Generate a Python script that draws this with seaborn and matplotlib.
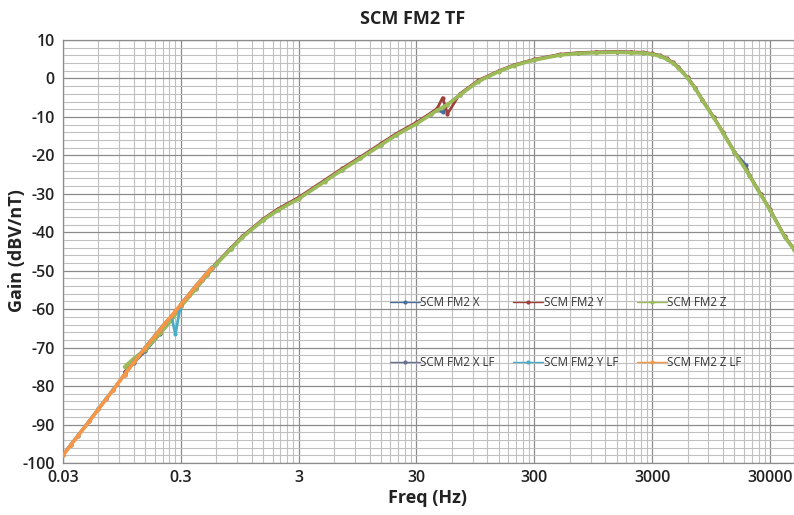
import matplotlib
matplotlib.use("Agg")
import matplotlib.pyplot as plt
import matplotlib.ticker as mticker
import seaborn as sns
import numpy as np

# ---------------- data ----------------
freq_hf = [0.1, 0.12, 0.15, 0.2, 0.25, 0.3, 0.4, 0.5, 0.6, 0.8, 1, 1.5, 2, 3, 5, 7,
           10, 15, 20, 30, 40, 45, 50, 55, 70, 100, 150, 200, 300, 500, 700, 1000,
           1500, 2000, 2500, 3000, 3500, 4000, 4500, 5000, 6000, 7000, 8000, 10000,
           12000, 15000, 18700, 20000, 25000, 30000, 40000, 48000]
gain_x = [-76.5, -73.9, -70.9, -66.4, -62.9, -59.3, -54.8, -51.2, -48.3, -44.3, -41.3,
          -36.8, -34.2, -31.2, -26.7, -23.7, -20.7, -17.2, -14.7, -11.7, -9.2, -8.2,
          -8.8, -6.8, -4.2, -0.7, 1.9, 3.4, 4.9, 6.2, 6.6, 6.8, 6.9, 6.8, 6.7, 6.4,
          5.9, 5.1, 4.1, 2.9, 0.2, -2.6, -5.6, -10.1, -14.1, -19.1, -22.5, -25.1,
          -30.1, -34.1, -41.1, -44.4]
gain_y = [-76.3, -73.6, -70.6, -66.1, -62.6, -59.0, -54.5, -50.9, -48.0, -44.0, -41.0,
          -36.5, -33.9, -30.9, -26.4, -23.4, -20.4, -16.9, -14.4, -11.4, -8.9, -7.8,
          -5.0, -9.2, -4.0, -0.5, 2.0, 3.5, 5.0, 6.3, 6.7, 6.9, 7.0, 6.9, 6.8, 6.5,
          6.0, 5.2, 4.2, 3.0, 0.3, -2.5, -5.5, -10.0, -14.0, -19.0, -23.5, -25.0,
          -30.0, -34.0, -41.0, -44.3]
gain_z = [-75.0, -72.8, -70.5, -66.3, -62.8, -59.3, -54.8, -51.2, -48.3, -44.3, -41.3,
          -36.8, -34.3, -31.3, -26.8, -23.8, -20.8, -17.3, -14.8, -11.8, -9.3, -8.3,
          -7.5, -6.8, -4.3, -0.8, 1.8, 3.3, 4.8, 6.1, 6.5, 6.7, 6.8, 6.7, 6.6, 6.3,
          5.8, 5.0, 4.0, 2.8, 0.1, -2.7, -5.7, -10.2, -14.2, -19.2, -23.7, -25.2,
          -30.2, -34.2, -41.2, -44.5]

freq_lf = [0.03, 0.035, 0.04, 0.05, 0.06, 0.07, 0.08, 0.1, 0.12, 0.15, 0.18, 0.2,
           0.22, 0.25, 0.27, 0.3, 0.35, 0.4, 0.45, 0.5, 0.55]
gain_x_lf = [-98.0, -95.3, -93.0, -89.2, -86.0, -83.3, -81.0, -77.0, -73.8, -70.0,
             -67.0, -65.3, -63.7, -61.8, -60.5, -58.8, -56.3, -54.1, -52.3, -50.6, -49.2]
gain_y_lf = [-97.8, -95.1, -92.8, -89.0, -85.8, -83.1, -80.8, -76.8, -73.6, -69.8,
             -66.8, -65.1, -63.5, -62.0, -66.5, -58.6, -56.1, -53.9, -52.1, -50.4, -49.0]
gain_z_lf = [-98.0, -95.3, -93.0, -89.2, -86.0, -83.3, -81.0, -77.0, -73.8, -70.0,
             -67.0, -65.3, -63.7, -61.8, -60.5, -58.8, -56.3, -54.1, -52.3, -50.6, -49.2]

series_names = ["SCM FM2 X", "SCM FM2 Y", "SCM FM2 Z",
                "SCM FM2 X LF", "SCM FM2 Y LF", "SCM FM2 Z LF"]
series_colors = ["#4a6f9a", "#a0403c", "#9bbb59", "#6b6f8e", "#4bacc6", "#f79646"]

x_ticks = [0.03, 0.3, 3, 30, 300, 3000, 30000]
x_tick_labels = ["0.03", "0.3", "3", "30", "300", "3000", "30000"]
y_ticks = [10, 0, -10, -20, -30, -40, -50, -60, -70, -80, -90, -100]
y_tick_labels = ["10", "0", "-10", "-20", "-30", "-40", "-50", "-60", "-70", "-80",
                 "-90", "-100"]

# ---------------- style ----------------
sns.set_theme(style="white")
plt.rcParams["font.family"] = ["Open Sans", "DejaVu Sans"]

W, H = 794, 515
fig = plt.figure(figsize=(W / 100, H / 100), dpi=100)
ax = fig.add_axes([63 / W, 1 - 463 / H, 1 - 63 / W, (463 - 40) / H])

series = [
    (freq_hf, gain_x), (freq_hf, gain_y), (freq_hf, gain_z),
    (freq_lf, gain_x_lf), (freq_lf, gain_y_lf), (freq_lf, gain_z_lf),
]
for i in range(6):
    fx, gy = series[i]
    lw = 2.6 if i in (2, 5) else 2.0
    sns.lineplot(x=fx, y=gy, ax=ax, color=series_colors[i], lw=lw,
                 marker="o", markersize=3, markeredgewidth=0,
                 sort=False, label=series_names[i], zorder=3 + i)

ax.set_xscale("log")
ax.set_xlim(0.03, 48000)
ax.set_ylim(-100, 10)

ax.xaxis.set_major_locator(mticker.FixedLocator(x_ticks))
ax.xaxis.set_major_formatter(mticker.FixedFormatter(x_tick_labels))
minor_x = [0.03 * k * 10 ** n for n in range(0, 7) for k in range(2, 10)]
ax.xaxis.set_minor_locator(mticker.FixedLocator(minor_x))
ax.xaxis.set_minor_formatter(mticker.NullFormatter())
ax.yaxis.set_major_locator(mticker.FixedLocator(y_ticks))
ax.yaxis.set_major_formatter(mticker.FixedFormatter(y_tick_labels))
ax.yaxis.set_minor_locator(mticker.MultipleLocator(2))

ax.grid(which="major", color="#8c8c8c", lw=0.9)
ax.grid(which="minor", color="#c0c0c0", lw=0.8)
ax.set_axisbelow(True)
ax.tick_params(which="both", length=0)
ax.tick_params(axis="x", pad=5, labelsize=11.5)
ax.tick_params(axis="y", pad=6, labelsize=11.5)
for lab in ax.get_xticklabels() + ax.get_yticklabels():
    lab.set_fontweight("semibold")
    lab.set_color("#222222")
for s in ax.spines.values():
    s.set_color("#8c8c8c")
    s.set_linewidth(0.9)

ax.set_xlabel("Freq (Hz)", fontsize=13, fontweight="bold", color="#222222")
ax.xaxis.set_label_coords((428 - 63) / 731, (463 - 489) / 423)
ax.set_ylabel("Gain (dBV/nT)", fontsize=13, fontweight="bold", color="#222222")
ax.yaxis.set_label_coords((26 - 63) / 731, (463 - 251) / 423)
fig.text(413 / W, 1 - 19 / H, "SCM FM2 TF", ha="center", va="center",
         fontsize=13, fontweight="bold", color="#222222")

# legend: column-wise fill -> rows X Y Z / X LF Y LF Z LF
h, l = ax.get_legend_handles_labels()
idx = [0, 3, 1, 4, 2, 5]
leg = ax.legend([h[i] for i in idx], [l[i] for i in idx], ncol=3, frameon=False,
                fontsize=8.3, handlelength=2.6, handletextpad=0.05,
                columnspacing=1.6, labelspacing=4.1, borderpad=0.0,
                loc="upper left", bbox_to_anchor=((384 - 63) / 731, (463 - 290) / 423))
for t in leg.get_texts():
    t.set_color("#333333")
for lh in leg.legend_handles:
    lh.set_linewidth(1.0)
    lh.set_markersize(3)

fig.savefig("out.png", dpi=100)
